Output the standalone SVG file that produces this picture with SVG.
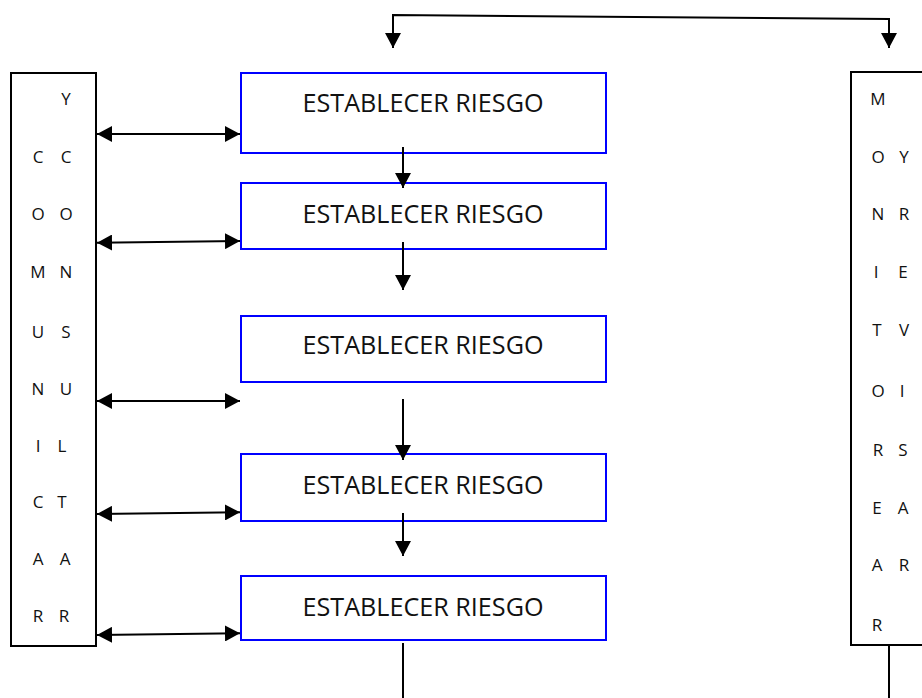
<svg xmlns="http://www.w3.org/2000/svg" width="922" height="698" viewBox="0 0 922 698">
<style>
.box{fill:#fff;stroke:#0000ff;stroke-width:2}
.side{fill:#fff;stroke:#000;stroke-width:2}
.lbl{font-family:"Open Sans","Liberation Sans",sans-serif;font-size:26px;fill:#111;text-anchor:middle}
.ltr{font-family:"Open Sans","Liberation Sans",sans-serif;font-size:17px;fill:#111;text-anchor:middle}
.c{fill:none;stroke:#000;stroke-width:2}
</style>
<defs>
<marker id="ah" markerUnits="userSpaceOnUse" markerWidth="15" markerHeight="16" refX="15" refY="8" orient="auto-start-reverse">
<path d="M0,0 L15,8 L0,16 z" fill="#000"/>
</marker>
</defs>
<g id="comunicar">
<rect class="side" x="11" y="73" width="85" height="573"/>
<text class="ltr" x="66" y="105">Y</text>
<text class="ltr" x="38" y="163">C</text><text class="ltr" x="66" y="163">C</text>
<text class="ltr" x="38" y="220">O</text><text class="ltr" x="66" y="220">O</text>
<text class="ltr" x="38" y="278">M</text><text class="ltr" x="66" y="278">N</text>
<text class="ltr" x="38" y="338">U</text><text class="ltr" x="66" y="338">S</text>
<text class="ltr" x="38" y="395">N</text><text class="ltr" x="66" y="395">U</text>
<text class="ltr" x="38" y="452">I</text><text class="ltr" x="62" y="452">L</text>
<text class="ltr" x="38" y="508">C</text><text class="ltr" x="62" y="508">T</text>
<text class="ltr" x="38" y="565">A</text><text class="ltr" x="65" y="565">A</text>
<text class="ltr" x="38" y="622">R</text><text class="ltr" x="64" y="622">R</text>
</g>
<g id="monitorear">
<rect class="side" x="851" y="72" width="100" height="573"/>
<text class="ltr" x="878" y="105">M</text>
<text class="ltr" x="878" y="163">O</text><text class="ltr" x="904" y="163">Y</text>
<text class="ltr" x="878" y="220">N</text><text class="ltr" x="904" y="220">R</text>
<text class="ltr" x="876" y="278">I</text><text class="ltr" x="903" y="278">E</text>
<text class="ltr" x="877" y="336">T</text><text class="ltr" x="904" y="336">V</text>
<text class="ltr" x="878" y="397">O</text><text class="ltr" x="902" y="397">I</text>
<text class="ltr" x="878" y="456">R</text><text class="ltr" x="903" y="456">S</text>
<text class="ltr" x="877" y="514">E</text><text class="ltr" x="903" y="514">A</text>
<text class="ltr" x="877" y="571">A</text><text class="ltr" x="904" y="571">R</text>
<text class="ltr" x="877" y="631">R</text>
</g>
<g id="box1"><rect class="box" x="241" y="73" width="365" height="80"/><text class="lbl" x="423" y="112" textLength="241" lengthAdjust="spacingAndGlyphs">ESTABLECER RIESGO</text></g>
<g id="box2"><rect class="box" x="241" y="183" width="365" height="66"/><text class="lbl" x="423" y="223" textLength="241" lengthAdjust="spacingAndGlyphs">ESTABLECER RIESGO</text></g>
<g id="box3"><rect class="box" x="241" y="316" width="365" height="66"/><text class="lbl" x="423" y="354" textLength="241" lengthAdjust="spacingAndGlyphs">ESTABLECER RIESGO</text></g>
<g id="box4"><rect class="box" x="241" y="454" width="365" height="67"/><text class="lbl" x="423" y="494" textLength="241" lengthAdjust="spacingAndGlyphs">ESTABLECER RIESGO</text></g>
<g id="box5"><rect class="box" x="241" y="576" width="365" height="64"/><text class="lbl" x="423" y="616" textLength="241" lengthAdjust="spacingAndGlyphs">ESTABLECER RIESGO</text></g>
<g id="connectors">
<polyline class="c" points="393,48 393,15 889,19 889,48" marker-start="url(#ah)" marker-end="url(#ah)"/>
<line class="c" x1="97" y1="134" x2="240" y2="134" marker-start="url(#ah)" marker-end="url(#ah)"/>
<line class="c" x1="97" y1="242.7" x2="240" y2="241" marker-start="url(#ah)" marker-end="url(#ah)"/>
<line class="c" x1="97" y1="401" x2="240" y2="401" marker-start="url(#ah)" marker-end="url(#ah)"/>
<line class="c" x1="97" y1="514" x2="240" y2="512.3" marker-start="url(#ah)" marker-end="url(#ah)"/>
<line class="c" x1="97" y1="635" x2="240" y2="633.3" marker-start="url(#ah)" marker-end="url(#ah)"/>
<line class="c" x1="403" y1="147" x2="403" y2="188" marker-end="url(#ah)"/>
<line class="c" x1="403" y1="242" x2="403" y2="290" marker-end="url(#ah)"/>
<line class="c" x1="403" y1="399" x2="403" y2="460" marker-end="url(#ah)"/>
<line class="c" x1="403" y1="513" x2="403" y2="556" marker-end="url(#ah)"/>
<line class="c" x1="403" y1="643" x2="403" y2="698"/>
<line class="c" x1="889" y1="645" x2="889" y2="698"/>
</g>
</svg>
